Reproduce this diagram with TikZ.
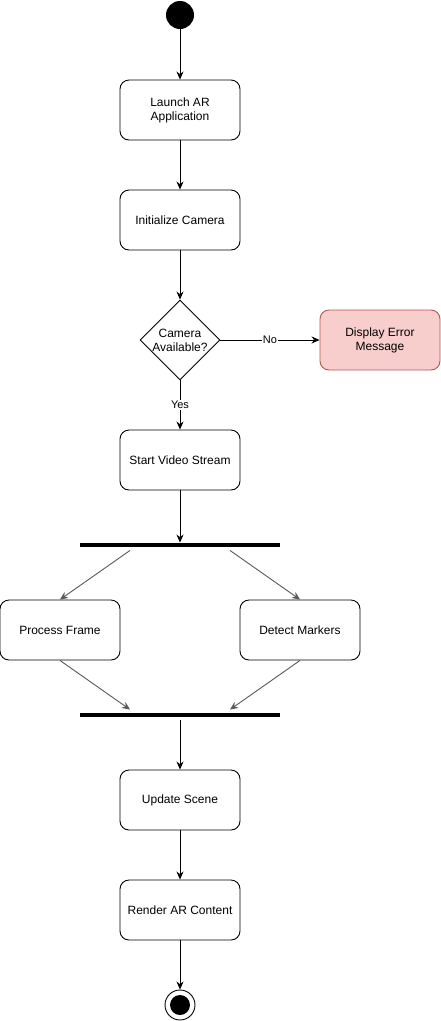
\documentclass[tikz,border=0pt]{standalone}
\usepackage{fontspec}
\setmainfont{Liberation Sans}
\usetikzlibrary{shapes.geometric,arrows.meta}
\definecolor{errfill}{HTML}{F8CECC}
\definecolor{errdraw}{HTML}{B85450}
\tikzset{node distance=110pt, >={Stealth[length=8pt,width=7pt]}}
\tikzset{
  action/.style={draw, line width=0.9pt, rounded corners=9pt, minimum width=120pt,
    minimum height=60pt, align=center, font=\fontsize{12}{14}\selectfont},
  erroract/.style={action, draw=errdraw, fill=errfill},
  decision/.style={draw, line width=0.9pt, diamond, minimum width=80pt, minimum height=80pt, inner sep=0pt},
  syncbar/.style={fill=black, minimum width=200pt, minimum height=4pt, inner sep=0pt},
  startdot/.style={circle, fill=black, minimum size=28pt, inner sep=0pt},
  enddot/.style={circle, draw, line width=0.9pt, minimum size=30pt, inner sep=0pt,
    path picture={\fill[black] (path picture bounding box.center) circle (10pt);}},
  edgelabel/.style={fill=white, inner sep=1pt, font=\fontsize{11}{13}\selectfont},
  forkline/.style={draw=black!65}
}

\begin{document}
\begin{tikzpicture}[line width=0.9pt]
  \useasboundingbox (0,0) rectangle (441pt,-1021pt);
  \node[startdot] (start) at (180pt,-15pt) {};
  \node[action] (launch) [node distance=95pt, below of=start] {Launch AR\\Application};
  \node[action] (initcam) [below of=launch] {Initialize Camera};
  \node[decision] (camok) [node distance=120pt, below of=initcam,
    label={[align=center, font=\fontsize{12}{14}\selectfont]center:Camera\\Available?}] {};
  \node[erroract] (camerr) [node distance=200pt, right of=camok] {Display Error\\Message};
  \node[action] (stream) [node distance=120pt, below of=camok] {Start Video Stream};
  \node[syncbar] (fork) [node distance=85pt, below of=stream] {};
  \node[action] (procframe) [node distance=85pt, below of=fork, xshift=-120pt] {Process Frame};
  \node[action] (detect) [node distance=240pt, right of=procframe] {Detect Markers};
  \node[syncbar] (join) [node distance=170pt, below of=fork] {};
  \node[action] (update) [node distance=85pt, below of=join] {Update Scene};
  \node[action] (render) [below of=update] {Render AR Content};
  \node[enddot] (finish) [node distance=95pt, below of=render] {};
  \draw[->] (start) -- (launch);
  \draw[->] (launch) -- (initcam);
  \draw[->] (initcam) -- (camok);
  \draw[->] (camok) -- node[edgelabel] {No} (camerr);
  \draw[->] (camok) -- node[edgelabel] {Yes} (stream);
  \draw[->] (stream) -- (fork);
  \draw[->, forkline] ([xshift=-50pt, yshift=-3pt]fork.south) -- (procframe.north);
  \draw[->, forkline] ([xshift=50pt, yshift=-3pt]fork.south) -- (detect.north);
  \draw[->, forkline] (procframe.south) -- ([xshift=-50pt, yshift=3pt]join.north);
  \draw[->, forkline] (detect.south) -- ([xshift=50pt, yshift=3pt]join.north);
  \draw[->] ([yshift=-3pt]join.south) -- (update);
  \draw[->] (update) -- (render);
  \draw[->] (render) -- (finish);
\end{tikzpicture}
\end{document}
